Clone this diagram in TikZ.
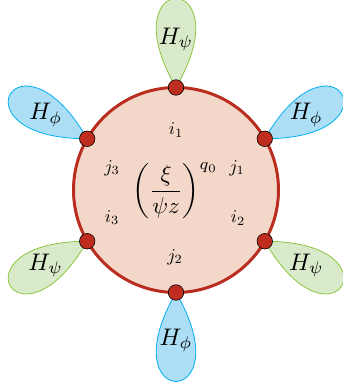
\documentclass[tikz,border=0pt]{standalone}
\usepackage{amsmath}
\usepackage{graphicx}
\definecolor{ringline}{RGB}{185,45,30}
\definecolor{ringfill}{RGB}{243,216,202}
\definecolor{dotfill}{RGB}{190,45,30}
\definecolor{greenfill}{RGB}{217,234,202}
\definecolor{greenline}{RGB}{140,198,63}
\definecolor{bluefill}{RGB}{172,222,246}
\definecolor{blueline}{RGB}{0,174,239}
\newcommand{\lobetext}[1]{\scalebox{2.4}{$#1$}}
\newcommand{\idxtext}[1]{\scalebox{1.8}{$#1$}}
\begin{document}
\begin{tikzpicture}[x=1pt,y=1pt,
 greenlobe/.style={draw=greenline,fill=greenfill,line width=0.8pt},
 bluelobe/.style={draw=blueline,fill=bluefill,line width=0.8pt},
 ring/.style={circle,draw=ringline,fill=ringfill,line width=3pt,minimum size=205pt,inner sep=0pt},
 dotnode/.style={circle,draw=black,fill=dotfill,line width=0.6pt,minimum size=15.5pt,inner sep=0pt},
 lobelabel/.style={inner sep=0pt},
 idx/.style={inner sep=0pt},
 core/.style={inner sep=0pt}]
\useasboundingbox (0,0) rectangle (343,389);
\coordinate (C) at (176,199);
\foreach \a in {30,90,150,210,270,330}{\coordinate (p\a) at ([shift={(\a:102.5)}]C);}
% lobes
\draw[greenlobe] (p90) .. controls +(60:137) and +(120:137) .. (p90);
\draw[bluelobe] (p30) .. controls +(0:137) and +(60:137) .. (p30);
\draw[bluelobe] (p150) .. controls +(120:137) and +(180:137) .. (p150);
\draw[greenlobe] (p210) .. controls +(180:137) and +(240:137) .. (p210);
\draw[bluelobe] (p270) .. controls +(240:137) and +(300:137) .. (p270);
\draw[greenlobe] (p330) .. controls +(300:137) and +(360:137) .. (p330);
% lobe labels
\node[lobelabel] (l90) at ([shift={(90:48)}]p90) {\lobetext{H_\psi}};
\node[lobelabel] (l30) at ([shift={(30:48)}]p30) {\lobetext{H_\phi}};
\node[lobelabel] (l150) at ([shift={(150:48)}]p150) {\lobetext{H_\phi}};
\node[lobelabel] (l210) at ([shift={(210:48)}]p210) {\lobetext{H_\psi}};
\node[lobelabel] (l270) at ([shift={(270:48)}]p270) {\lobetext{H_\phi}};
\node[lobelabel] (l330) at ([shift={(330:48)}]p330) {\lobetext{H_\psi}};
% ring
\node[ring] (ring) at (C) {};
\foreach \a in {30,90,150,210,270,330}{\node[dotnode] (d\a) at (p\a) {};}
% inner labels
\node[idx] (i1) at (176,259) {\idxtext{i_1}};
\node[idx] (j3) at (112,221) {\idxtext{j_3}};
\node[idx] (i3) at (112,171.5) {\idxtext{i_3}};
\node[idx] (j1) at (237,221) {\idxtext{j_1}};
\node[idx] (i2) at (238,171) {\idxtext{i_2}};
\node[idx] (j2) at (175,132) {\idxtext{j_2}};
\node[core] (frac) at (175.5,198) {\scalebox{2.3}{$\displaystyle\left(\frac{\xi}{\psi z}\right)^{q_0}$}};
\end{tikzpicture}
\end{document}
